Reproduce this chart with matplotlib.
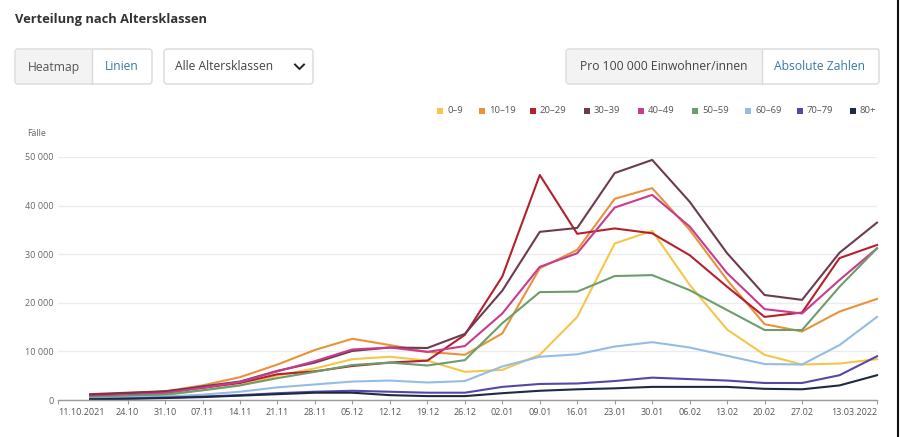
import numpy as np
import pandas as pd
import matplotlib
matplotlib.use("Agg")
import matplotlib.pyplot as plt
from matplotlib.patches import FancyBboxPatch, Rectangle

plt.rcParams['font.family'] = ['Open Sans', 'DejaVu Sans']

# weekly reporting dates
dates = ["2021-10-17", "2021-10-24", "2021-10-31", "2021-11-07", "2021-11-14", "2021-11-21",
         "2021-11-28", "2021-12-05", "2021-12-12", "2021-12-19", "2021-12-26", "2022-01-02",
         "2022-01-09", "2022-01-16", "2022-01-23", "2022-01-30", "2022-02-06", "2022-02-13",
         "2022-02-20", "2022-02-27", "2022-03-06", "2022-03-13"]

# cases per age class
age_0_9 = [500, 700, 1000, 2000, 3000, 5000, 6500, 8400, 8900, 8100, 5800, 6200,
           9300, 17100, 32200, 34800, 23700, 14500, 9300, 7300, 7500, 8400]
age_10_19 = [800, 1200, 1800, 3000, 4700, 7300, 10300, 12600, 11300, 9900, 9300, 13700,
             27100, 30900, 41400, 43600, 35000, 24700, 15600, 14100, 18200, 20800]
age_20_29 = [1200, 1500, 1800, 2500, 3500, 5300, 5900, 7000, 7700, 8100, 13400, 25400,
             46300, 34200, 35300, 34300, 29800, 23300, 17100, 18000, 29200, 31900]
age_30_39 = [1000, 1400, 1700, 2800, 3800, 6000, 7700, 10100, 10800, 10700, 13600, 22500,
             34600, 35400, 46700, 49400, 40800, 30200, 21600, 20600, 30300, 36500]
age_40_49 = [700, 1000, 1400, 2500, 3700, 5900, 8000, 10400, 10800, 9900, 11100, 17800,
             27400, 30200, 39600, 42200, 35700, 26100, 18700, 17800, 24700, 31200]
age_50_59 = [500, 800, 1100, 2000, 3000, 4500, 5800, 7200, 7700, 7100, 8200, 15800,
             22200, 22300, 25500, 25700, 22600, 18500, 14400, 14400, 23300, 31200]
age_60_69 = [300, 500, 700, 1100, 1700, 2600, 3200, 3800, 4000, 3600, 3900, 6900,
             8900, 9400, 11000, 11900, 10800, 9100, 7400, 7300, 11300, 17100]
age_70_79 = [200, 300, 500, 700, 1000, 1400, 1700, 1900, 1700, 1500, 1500, 2700,
             3300, 3400, 3900, 4600, 4300, 4000, 3500, 3500, 5100, 9000]
age_80 = [150, 250, 400, 600, 900, 1200, 1500, 1500, 1000, 800, 800, 1400,
          1900, 2200, 2400, 2700, 2700, 2700, 2300, 2200, 3000, 5100]

labels = ["0–9", "10–19", "20–29", "30–39", "40–49", "50–59", "60–69", "70–79", "80+"]
colors = ["#f4c64a", "#e8933b", "#b3212d", "#6d3b50", "#c93b8d", "#6c9d6b",
          "#93bde5", "#5547a8", "#1c2a45"]
series = [age_0_9, age_10_19, age_20_29, age_30_39, age_40_49, age_50_59,
          age_60_69, age_70_79, age_80]

tick_dates = ["2021-10-11", "2021-10-24", "2021-10-31", "2021-11-07", "2021-11-14",
              "2021-11-21", "2021-11-28", "2021-12-05", "2021-12-12", "2021-12-19",
              "2021-12-26", "2022-01-02", "2022-01-09", "2022-01-16", "2022-01-23",
              "2022-01-30", "2022-02-06", "2022-02-13", "2022-02-20", "2022-02-27",
              "2022-03-13"]
tick_labels = ["11.10.2021", "24.10", "31.10", "07.11", "14.11", "21.11", "28.11",
               "05.12", "12.12", "19.12", "26.12", "02.01", "09.01", "16.01", "23.01",
               "30.01", "06.02", "13.02", "20.02", "27.02", "13.03.2022"]

W, H = 900, 437
fig = plt.figure(figsize=(W / 100, H / 100), dpi=100)
fig.patch.set_facecolor("white")

# main chart, placed in pixel coordinates
left, right, bottom, top = 58, 877, 400, 157
ax = fig.add_axes([left / W, 1 - bottom / H, (right - left) / W, (bottom - top) / H])

x = pd.to_datetime(dates)
for vals, c in zip(series, colors):
    ax.plot(x, vals, color=c, lw=1.5, clip_on=False)

ax.set_xlim(pd.Timestamp("2021-10-11"), pd.Timestamp("2022-03-13"))
ax.set_ylim(0, 50000)
ax.set_yticks(np.arange(0, 50001, 10000))
ax.set_yticklabels(["0", "10 000", "20 000", "30 000", "40 000", "50 000"])
ax.grid(axis="y", color="#ececec", lw=1)
ax.set_axisbelow(True)

ax.set_xticks(pd.to_datetime(tick_dates))
ax.set_xticklabels(tick_labels)
xl = ax.get_xticklabels()
xl[0].set_horizontalalignment("left")
xl[-1].set_horizontalalignment("right")

for s in ["top", "right", "left"]:
    ax.spines[s].set_visible(False)
ax.spines["bottom"].set_color("#9a9a9a")
ax.spines["bottom"].set_linewidth(1)
ax.tick_params(axis="x", length=3, width=0.8, color="#9a9a9a", labelsize=6.5,
               labelcolor="#555555", pad=3)
ax.tick_params(axis="y", length=0, labelsize=6.5, labelcolor="#666666", pad=3)

# overlay for the page controls, in pixel coordinates
ov = fig.add_axes([0, 0, 1, 1], zorder=-1)
ov.set_xlim(0, W)
ov.set_ylim(H, 0)
ov.axis("off")

ov.text(15, 20, "Verteilung nach Altersklassen", fontsize=9.3, fontweight="bold",
        color="#333333", va="center", ha="left")


def box(x0, x1, y0, y1):
    ov.add_patch(FancyBboxPatch((x0, y0), x1 - x0, y1 - y0,
                                boxstyle="round,pad=0,rounding_size=3",
                                fc="white", ec="#d9d9d9", lw=1))


# Heatmap / Linien toggle
box(15, 152, 49, 84)
ov.add_patch(Rectangle((16, 50), 76, 33, fc="#f3f3f3", ec="none"))
ov.plot([92, 92], [49.5, 83.5], color="#d9d9d9", lw=1)
ov.text(54, 67, "Heatmap", fontsize=8.7, color="#555555", ha="center", va="center")
ov.text(122, 67, "Linien", fontsize=8.7, color="#3a7aa6", ha="center", va="center")

# age class dropdown
box(164, 313, 49, 84)
ov.text(175, 67, "Alle Altersklassen", fontsize=8.7, color="#444444", ha="left", va="center")
ov.plot([295, 299.5, 304], [64.5, 69, 64.5], color="#222222", lw=1.4)

# per 100k / absolute toggle
box(566, 879, 49, 84)
ov.add_patch(Rectangle((567, 50), 195, 33, fc="#f3f3f3", ec="none"))
ov.plot([762, 762], [49.5, 83.5], color="#d9d9d9", lw=1)
ov.text(664, 67, "Pro 100 000 Einwohner/innen", fontsize=8.7, color="#444444",
        ha="center", va="center")
ov.text(820, 67, "Absolute Zahlen", fontsize=8.7, color="#3a7aa6", ha="center", va="center")

# legend
leg_x = [440, 482, 533, 587, 641, 695, 748, 800, 853]
for lx, lab, c in zip(leg_x, labels, colors):
    ov.add_patch(Rectangle((lx - 3, 107.5), 6, 6, fc=c, ec="none"))
    ov.text(lx + 7, 110.5, lab, fontsize=6.8, color="#555555", ha="left", va="center")

ov.text(27, 133, "Fälle", fontsize=6.3, color="#666666", ha="left", va="center")

# screenshot edge on the right
ov.plot([897.5, 897.5], [0, H], color="#111111", lw=1.5)

fig.savefig("out.png", dpi=100)
